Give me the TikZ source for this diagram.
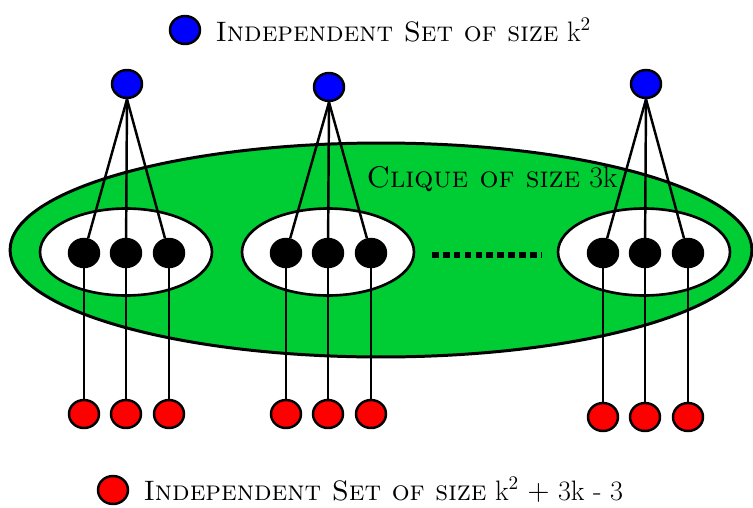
\documentclass[tikz,border=0pt]{standalone}
\usetikzlibrary{positioning,shapes.geometric}
\definecolor{cliquegreen}{RGB}{0,204,51}
\begin{document}
\begin{tikzpicture}[x=0.02cm,y=-0.02cm,
  vtx/.style={ellipse,draw,line width=1.4pt,inner sep=0pt,minimum width=0.6cm,minimum height=0.56cm},
  isb/.style={vtx,fill=blue},
  isr/.style={vtx,fill=red},
  cq/.style={vtx,fill=black},
  grp/.style={ellipse,draw,line width=1.5pt,fill=white,minimum width=3.44cm,minimum height=1.74cm},
  ed/.style={line width=1.4pt},
  txt/.style={font=\fontsize{17}{20}\selectfont,inner sep=0pt},
  lgd/.style={font=\fontsize{16}{19}\selectfont,inner sep=0pt}]
\useasboundingbox (0,0) rectangle (753,507);
% ---- clique and its three groups
\node[ellipse,draw,line width=1.7pt,fill=cliquegreen,minimum width=14.84cm,minimum height=4.28cm] (clq) at (381,250) {};
\foreach \g/\x in {1/126,2/328,3/644}{\node[grp] (g\g) at (\x,252) {};}
\node[txt] (clqlab) at (492,179) {\textsc{Clique of size} 3k};
% ---- vertices: blue above, clique vertices, red below
\foreach \g/\x/\yb/\yr in {1/126/84/414,2/328/87/414,3/645/84/417}{
  \node[isb] (b\g) at (\x+1,\yb) {};
  \foreach \i/\dx in {1/-42,2/0,3/43}{
    \node[cq] (c\g\i) at (\x+\dx,253) {};
    \node[isr] (r\g\i) at (\x+\dx,\yr) {};
    \draw[ed] (b\g.south) -- (c\g\i);
    \draw[ed] (c\g\i) -- (r\g\i);
  }
}
% ---- dots between groups
\coordinate (dl) at (432,255);
\coordinate (dr) at (541,255);
\draw[line width=3.6pt,dash pattern=on 3.8pt off 2.4pt] (dl) -- (dr);
% ---- legend
\node[isb] (kb) at (185,30) {};
\node[lgd,right=0.28cm of kb] (kblab) {\textsc{Independent Set of size} k$^2$};
\node[isr] (kr) at (113,490) {};
\node[lgd,right=0.28cm of kr] (krlab) {\textsc{Independent Set of size} k$^2$ $+$ 3k - 3};
\end{tikzpicture}
\end{document}
